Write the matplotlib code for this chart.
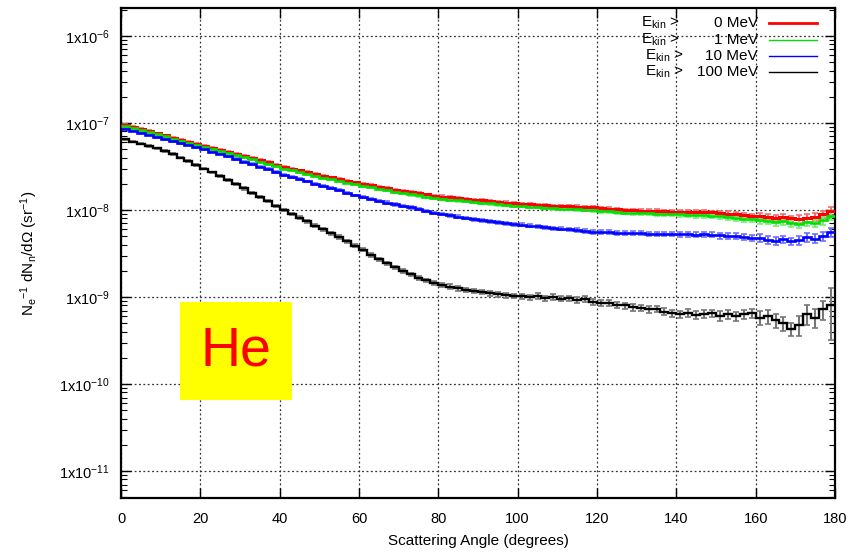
import numpy as np
import matplotlib
matplotlib.use('Agg')
import matplotlib.pyplot as plt
from matplotlib.patches import Rectangle
from matplotlib.ticker import LogLocator, NullFormatter, FixedLocator

plt.rcParams['font.family'] = ['Liberation Sans', 'DejaVu Sans']
plt.rcParams['mathtext.fontset'] = 'custom'
plt.rcParams['mathtext.rm'] = 'Liberation Sans'
plt.rcParams['mathtext.it'] = 'Liberation Sans'

# 2 degree bins, 0..180
bin_edges = np.arange(0, 182, 2)

e0_vals = [9.6e-8, 9.1e-8, 8.6e-8, 8.1e-8, 7.6e-8, 7.2e-8, 6.8e-8, 6.4e-8, 6.1e-8, 5.8e-8,
           5.5e-8, 5.2e-8, 4.95e-8, 4.7e-8, 4.45e-8, 4.2e-8, 4.0e-8, 3.75e-8, 3.55e-8, 3.3e-8,
           3.12e-8, 2.98e-8, 2.85e-8, 2.72e-8, 2.58e-8, 2.47e-8, 2.37e-8, 2.28e-8, 2.18e-8, 2.08e-8,
           2.0e-8, 1.93e-8, 1.86e-8, 1.78e-8, 1.70e-8, 1.65e-8, 1.60e-8, 1.56e-8, 1.51e-8, 1.46e-8,
           1.43e-8, 1.40e-8, 1.37e-8, 1.34e-8, 1.31e-8, 1.29e-8, 1.27e-8, 1.24e-8, 1.22e-8, 1.19e-8,
           1.18e-8, 1.17e-8, 1.15e-8, 1.14e-8, 1.12e-8, 1.11e-8, 1.10e-8, 1.09e-8, 1.08e-8, 1.07e-8,
           1.05e-8, 1.04e-8, 1.02e-8, 1.00e-8, 9.9e-9, 9.85e-9, 9.8e-9, 9.75e-9, 9.65e-9, 9.6e-9,
           9.6e-9, 9.55e-9, 9.5e-9, 9.45e-9, 9.4e-9, 9.3e-9, 9.1e-9, 9.0e-9, 8.8e-9, 8.6e-9,
           8.5e-9, 8.4e-9, 8.2e-9, 8.3e-9, 8.0e-9, 7.9e-9, 8.2e-9, 8.4e-9, 8.9e-9, 9.8e-9]

e1_vals = [9.2e-8, 8.8e-8, 8.3e-8, 7.9e-8, 7.4e-8, 7.0e-8, 6.6e-8, 6.2e-8, 5.9e-8, 5.6e-8,
           5.35e-8, 5.05e-8, 4.8e-8, 4.55e-8, 4.3e-8, 4.05e-8, 3.85e-8, 3.6e-8, 3.4e-8, 3.2e-8,
           3.0e-8, 2.86e-8, 2.73e-8, 2.6e-8, 2.47e-8, 2.36e-8, 2.26e-8, 2.17e-8, 2.07e-8, 1.98e-8,
           1.9e-8, 1.83e-8, 1.76e-8, 1.69e-8, 1.62e-8, 1.56e-8, 1.51e-8, 1.47e-8, 1.43e-8, 1.38e-8,
           1.35e-8, 1.32e-8, 1.29e-8, 1.26e-8, 1.23e-8, 1.21e-8, 1.19e-8, 1.16e-8, 1.14e-8, 1.12e-8,
           1.11e-8, 1.09e-8, 1.08e-8, 1.06e-8, 1.05e-8, 1.04e-8, 1.03e-8, 1.02e-8, 1.01e-8, 1.0e-8,
           9.8e-9, 9.7e-9, 9.5e-9, 9.35e-9, 9.25e-9, 9.2e-9, 9.15e-9, 9.1e-9, 9.0e-9, 8.9e-9,
           8.9e-9, 8.8e-9, 8.7e-9, 8.7e-9, 8.6e-9, 8.5e-9, 8.3e-9, 8.1e-9, 7.9e-9, 7.8e-9,
           7.6e-9, 7.5e-9, 7.2e-9, 7.4e-9, 7.0e-9, 6.9e-9, 7.3e-9, 7.1e-9, 7.6e-9, 8.6e-9]

e10_vals = [8.6e-8, 8.2e-8, 7.7e-8, 7.3e-8, 6.9e-8, 6.55e-8, 6.2e-8, 5.9e-8, 5.6e-8, 5.3e-8,
            5.0e-8, 4.7e-8, 4.45e-8, 4.15e-8, 3.85e-8, 3.6e-8, 3.38e-8, 3.15e-8, 2.95e-8, 2.72e-8,
            2.55e-8, 2.42e-8, 2.28e-8, 2.13e-8, 1.98e-8, 1.88e-8, 1.78e-8, 1.68e-8, 1.58e-8, 1.47e-8,
            1.40e-8, 1.34e-8, 1.28e-8, 1.22e-8, 1.16e-8, 1.12e-8, 1.07e-8, 1.02e-8, 9.8e-9, 9.3e-9,
            9.0e-9, 8.7e-9, 8.4e-9, 8.1e-9, 7.8e-9, 7.6e-9, 7.4e-9, 7.2e-9, 7.0e-9, 6.85e-9,
            6.75e-9, 6.6e-9, 6.5e-9, 6.35e-9, 6.2e-9, 6.1e-9, 6.0e-9, 5.9e-9, 5.75e-9, 5.6e-9,
            5.6e-9, 5.55e-9, 5.5e-9, 5.45e-9, 5.4e-9, 5.4e-9, 5.35e-9, 5.3e-9, 5.3e-9, 5.3e-9,
            5.25e-9, 5.25e-9, 5.2e-9, 5.3e-9, 5.2e-9, 5.1e-9, 5.0e-9, 5.05e-9, 4.9e-9, 4.75e-9,
            4.8e-9, 4.55e-9, 4.45e-9, 4.6e-9, 4.35e-9, 4.5e-9, 4.9e-9, 4.7e-9, 5.0e-9, 5.6e-9]

e100_vals = [6.5e-8, 6.1e-8, 5.8e-8, 5.45e-8, 5.1e-8, 4.75e-8, 4.4e-8, 4.0e-8, 3.65e-8, 3.3e-8,
             3.0e-8, 2.7e-8, 2.45e-8, 2.2e-8, 1.97e-8, 1.77e-8, 1.58e-8, 1.42e-8, 1.27e-8, 1.12e-8,
             1.0e-8, 9.0e-9, 8.2e-9, 7.4e-9, 6.6e-9, 6.0e-9, 5.4e-9, 4.9e-9, 4.4e-9, 3.9e-9,
             3.5e-9, 3.05e-9, 2.7e-9, 2.45e-9, 2.2e-9, 1.98e-9, 1.82e-9, 1.66e-9, 1.55e-9, 1.45e-9,
             1.38e-9, 1.32e-9, 1.26e-9, 1.21e-9, 1.17e-9, 1.14e-9, 1.10e-9, 1.07e-9, 1.05e-9, 1.03e-9,
             1.02e-9, 0.99e-9, 1.03e-9, 0.97e-9, 1.0e-9, 0.96e-9, 0.97e-9, 0.93e-9, 0.95e-9, 0.88e-9,
             0.85e-9, 0.86e-9, 0.82e-9, 0.80e-9, 0.76e-9, 0.75e-9, 0.72e-9, 0.73e-9, 0.68e-9, 0.65e-9,
             0.63e-9, 0.66e-9, 0.62e-9, 0.64e-9, 0.65e-9, 0.61e-9, 0.64e-9, 0.60e-9, 0.63e-9, 0.65e-9,
             0.58e-9, 0.60e-9, 0.54e-9, 0.50e-9, 0.43e-9, 0.48e-9, 0.64e-9, 0.58e-9, 0.72e-9, 0.80e-9]

# relative errors per 10 degree block
e0_relerr = [0.015, 0.015, 0.015, 0.02, 0.02, 0.02, 0.025, 0.025, 0.03,
             0.03, 0.03, 0.035, 0.04, 0.04, 0.05, 0.06, 0.08, 0.10]
e1_relerr = [0.015, 0.015, 0.02, 0.02, 0.02, 0.025, 0.025, 0.03, 0.03,
             0.035, 0.035, 0.04, 0.045, 0.05, 0.06, 0.07, 0.09, 0.11]
e10_relerr = [0.015, 0.015, 0.02, 0.02, 0.025, 0.025, 0.03, 0.03, 0.035,
              0.035, 0.04, 0.045, 0.05, 0.055, 0.065, 0.08, 0.10, 0.12]
e100_relerr = [0.02, 0.02, 0.025, 0.03, 0.035, 0.04, 0.045, 0.05, 0.06,
               0.06, 0.07, 0.07, 0.08, 0.09, 0.10, 0.12, 0.18, 0.25]
e100_last_relerr = 0.6

labels_left = [r'E$_{\rm kin}$ >', r'E$_{\rm kin}$ >', r'E$_{\rm kin}$ >', r'E$_{\rm kin}$ >']
labels_right = ['0 MeV', '1 MeV', '10 MeV', '100 MeV']
colors = ['#ff0000', '#00e000', '#0000ff', '#000000']
err_colors = ['#f07070', '#70f070', '#7070ff', '#777777']
widths = [2.2, 1.9, 1.9, 1.7]
legend_widths = [2.0, 1.0, 1.0, 1.0]

series = [e0_vals, e1_vals, e10_vals, e100_vals]
relerrs = [e0_relerr, e1_relerr, e10_relerr, e100_relerr]

fig = plt.figure(figsize=(8.56, 5.53), dpi=100)
ax = fig.add_axes([121/856, 1-498/553, 714/856, 490/553])

centers = 0.5 * (bin_edges[:-1] + bin_edges[1:])
for i, vals in enumerate(series):
    vals = np.array(vals)
    rel = np.repeat(relerrs[i], 5)
    if i == 3:
        rel[-1] = e100_last_relerr
    err = vals * rel
    ax.errorbar(centers, vals, yerr=err, fmt='none', ecolor=err_colors[i],
                elinewidth=1.5, capsize=2.5, capthick=1.2, zorder=2 + i)
    ax.stairs(vals, bin_edges, baseline=None, color=colors[i], lw=widths[i], zorder=6 + i)

ax.set_yscale('log')
ax.set_xlim(0, 180)
ax.set_ylim(10**-11.31, 10**-5.678)
ax.set_xticks(range(0, 181, 20))
ax.set_xticklabels([str(v) for v in range(0, 181, 20)], fontsize=10.5)

yt = [1e-11, 1e-10, 1e-9, 1e-8, 1e-7, 1e-6]
ax.yaxis.set_major_locator(FixedLocator(yt))
ax.set_yticklabels([r'1x10$^{%d}$' % e for e in range(-11, -5)], fontsize=10.5)
ax.yaxis.set_minor_locator(LogLocator(base=10, subs=np.arange(2, 10), numticks=20))
ax.yaxis.set_minor_formatter(NullFormatter())

ax.tick_params(which='both', direction='in', top=True, right=True)
ax.tick_params(which='major', length=7, width=1)
ax.tick_params(which='minor', length=4, width=0.8)
ax.tick_params(axis='x', pad=10)
ax.tick_params(axis='y', pad=8)

ax.grid(True, which='major', color='#333333', linestyle=(0, (1.5, 2)), lw=0.9)
for s in ax.spines.values():
    s.set_linewidth(1.6)

ax.set_xlabel('Scattering Angle (degrees)', fontsize=11, labelpad=6)
ax.set_ylabel(r'N$_{\rm e}$$^{-1}$ dN$_{\rm n}$/d$\Omega$ (sr$^{-1}$)', fontsize=11, labelpad=14)

# legend (gnuplot style: text then sample)
row_y = [23, 40, 56, 72]
left_x = [641, 641, 645, 645]
for i in range(4):
    yf = 1 - row_y[i] / 553
    fig.text(left_x[i] / 856, yf, labels_left[i], fontsize=11, ha='left', va='center')
    fig.text(758 / 856, yf, labels_right[i], fontsize=11, ha='right', va='center')
    fig.add_artist(plt.Line2D([769 / 856, 817 / 856], [yf, yf], color=colors[i],
                              lw=legend_widths[i], transform=fig.transFigure))

# He label box
ax.add_patch(Rectangle((59/714, 98/490), 112/714, 98/490, transform=ax.transAxes,
                       facecolor='#ffff00', edgecolor='none', zorder=20))
ax.text(115/714, 147/490, 'He', transform=ax.transAxes, color='#ff0000',
        fontsize=40, ha='center', va='center', zorder=21)

fig.savefig('out.png', dpi=100)
